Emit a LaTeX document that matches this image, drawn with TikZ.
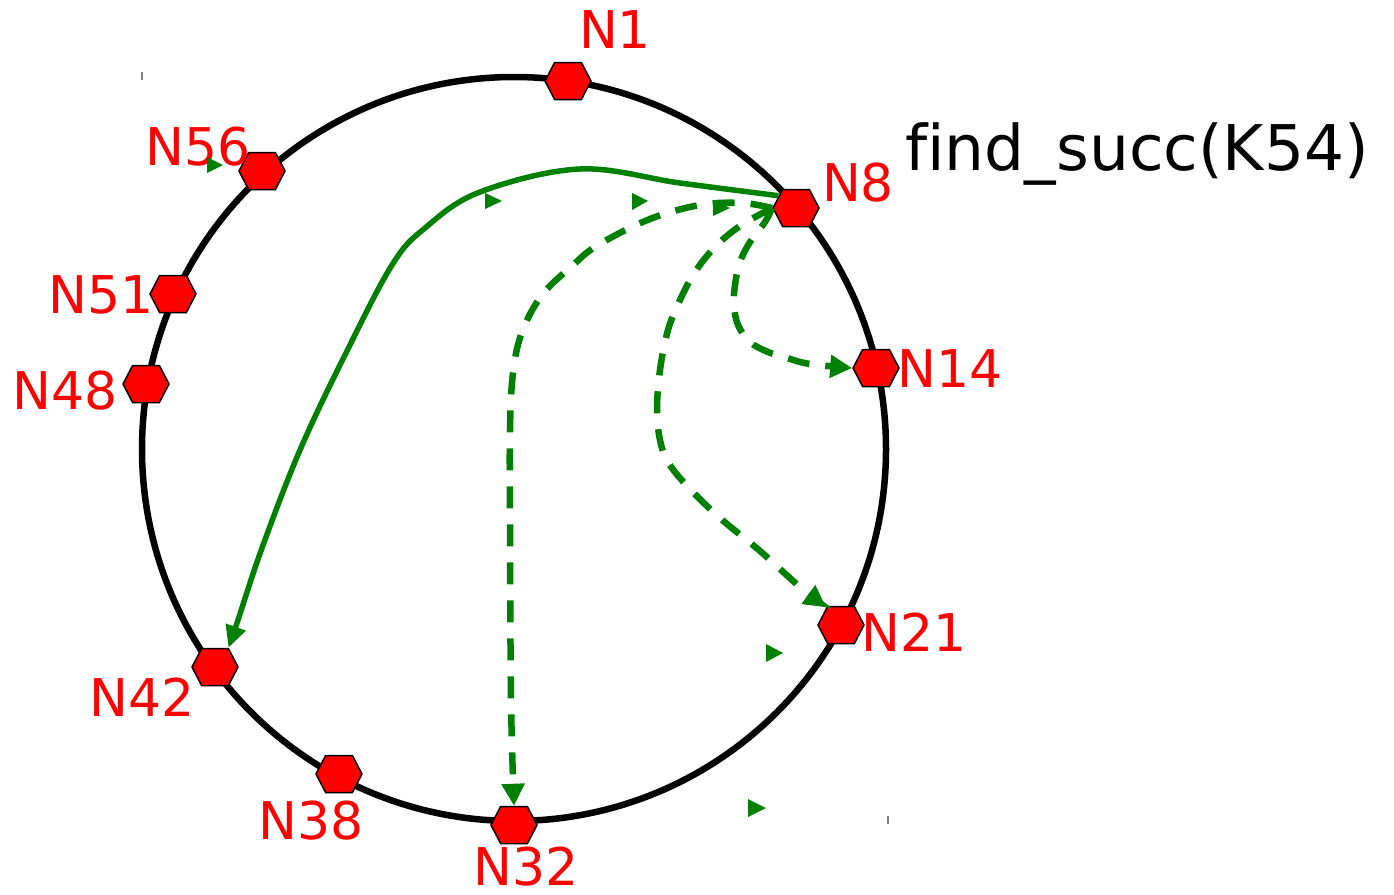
\documentclass[tikz,border=0pt]{standalone}
\usepackage{fontspec}
\setmainfont{DejaVu Sans}
\newfontfamily\nolig[Ligatures=NoCommon]{DejaVu Sans}
\usetikzlibrary{arrows.meta,shapes.symbols}
\definecolor{ggreen}{RGB}{0,128,0}
\begin{document}
\begin{tikzpicture}[x=1pt,y=-1pt,
 hexnode/.style={signal, signal to=east and west, signal pointer angle=125, fill=red, draw=black, line width=1.5pt, minimum width=46pt, minimum height=37pt, inner sep=0pt},
 lbl/.style={text=red, font=\fontsize{52}{60}\selectfont, inner sep=0pt, anchor=base},
 solidarrow/.style={ggreen, line width=5.5pt, -{Triangle[length=22pt,width=20pt]}},
 dasharrow/.style={ggreen, line width=6.5pt, dash pattern=on 22pt off 16pt, -{Triangle[length=22pt,width=22pt]}},
 stray/.style={fill=ggreen}]
\useasboundingbox (0,0) rectangle (1394,894);
% ring
\draw[line width=6.5pt] (514,449) circle[radius=372];
% hexagon nodes
\node[hexnode] (n1)  at (568,81)  {};
\node[hexnode] (n56) at (262,171) {};
\node[hexnode] (n8)  at (796,208) {};
\node[hexnode] (n51) at (173,294) {};
\node[hexnode] (n48) at (146,384) {};
\node[hexnode] (n14) at (876,368) {};
\node[hexnode] (n21) at (841,625) {};
\node[hexnode] (n42) at (215,667) {};
\node[hexnode] (n38) at (339,774) {};
\node[hexnode] (n32) at (514,825) {};
% labels
\node[lbl] (l1)  at (615,48)  {N1};
\node[lbl] (l56) at (198,165) {N56};
\node[lbl] (l8)  at (858,201) {N8};
\node[lbl] (l51) at (101,313) {N51};
\node[lbl] (l48) at (65,409)  {N48};
\node[lbl] (l14) at (950,387) {N14};
\node[lbl] (l21) at (914,651) {N21};
\node[lbl] (l42) at (142,716) {N42};
\node[lbl] (l38) at (311,839) {N38};
\node[lbl] (l32) at (526,885) {N32};
\node[inner sep=0pt, anchor=base, font=\nolig\fontsize{63}{70}\selectfont] (fs) at (1137,170) {find\_succ(K54)};
% connectors
\draw[solidarrow] plot[smooth, tension=0.6] coordinates {(n8.145) (680,183) (580,169) (480,192) (425,228) (392,265) (345,355) (300,450) (262,548) (238,620) (n42.55)};
\draw[dasharrow] plot[smooth, tension=0.6] coordinates {(n8.west) (742,203) (700,205) (650,219) (598,245) (572,266) (542,295) (522,332) (513,373) (510,430) (510,520) (511,700) (n32.north)};
\draw[dasharrow] plot[smooth, tension=0.6] coordinates {(n8.west) (740,226) (715,247) (695,272) (680,300) (668,330) (660,370) (657,410) (660,440) (668,462) (688,487) (720,518) (760,551) (800,587) (n21.130)};
\draw[dasharrow] plot[smooth, tension=0.6] coordinates {(n8.west) (765,222) (750,242) (740,262) (735,285) (734,305) (738,325) (750,342) (768,352) (787,358) (810,364) (n14.west)};
% stray arrow marks
\fill[stray] (207,157) -- (223,165) -- (207,173) -- cycle;
\fill[stray] (485,193) -- (502,201) -- (485,209) -- cycle;
\fill[stray] (632,193) -- (648,201) -- (632,210) -- cycle;
\fill[stray] (713,200) -- (730,208) -- (713,216) -- cycle;
\fill[stray] (766,644) -- (783,653) -- (766,662) -- cycle;
\fill[stray] (748,799) -- (766,808) -- (748,817) -- cycle;
% tiny ticks
\draw[gray, line width=1.2pt] (142,72) -- (142,80);
\draw[gray, line width=1.2pt] (888,816) -- (888,824);
\end{tikzpicture}
\end{document}
